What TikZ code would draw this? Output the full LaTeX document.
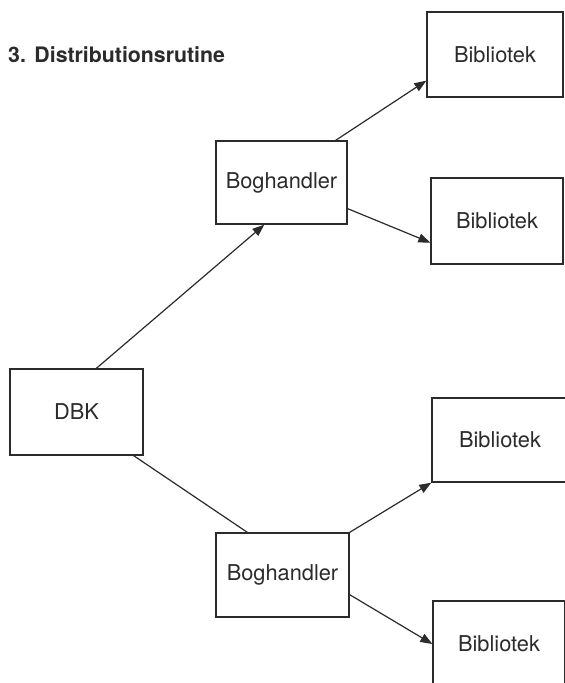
\documentclass[tikz,border=0pt]{standalone}
\usepackage{fontspec}
\setmainfont{TeX Gyre Heros}
\usetikzlibrary{arrows.meta,calc}
\definecolor{ink}{HTML}{2B2B2B}
\begin{document}
\begin{tikzpicture}[x=1pt,y=-1pt,
  box/.style={draw=ink,line width=1.3pt,rectangle,inner sep=0pt,text=ink,font=\fontsize{21.8}{24}\selectfont},
  conn/.style={draw=ink,line width=1.2pt},
  arr/.style={conn,-{Triangle[length=12pt,width=9pt]}}]
\useasboundingbox (0,0) rectangle (565,683);
\clip (0,0) rectangle (565,683);
\fill[white] (0,0) rectangle (565,683);
\node[anchor=base west,text=ink,font=\fontsize{21.3}{24}\selectfont\bfseries,inner sep=0pt] (title) at (8,62) {3.\hspace{0.4em}Distributionsrutine};
\node[box,minimum width=133pt,minimum height=86pt] (dbk) at (76.5,412) {DBK};
\node[box,minimum width=131pt,minimum height=83pt] (bog1) at (281.5,182.5) {Boghandler};
\node[box,minimum width=133pt,minimum height=84pt] (bog2) at (282.5,575) {Boghandler};
\node[box,minimum width=136pt,minimum height=85pt] (bib1) at (495,54.5) {Bibliotek};
\node[box,minimum width=132pt,minimum height=86pt] (bib2) at (497,221) {Bibliotek};
\node[box,minimum width=136pt,minimum height=84pt] (bib3) at (500,440) {Bibliotek};
\node[box,minimum width=132pt,minimum height=86pt] (bib4) at (499,644) {Bibliotek};
\draw[arr] ([xshift=87pt]dbk.north west) -- ([xshift=49pt]bog1.south west);
\draw[conn] ([xshift=-10pt]dbk.south east) -- ([xshift=32pt]bog2.north west);
\draw[arr] ([xshift=-12pt]bog1.north east) -- ([yshift=17pt]bib1.south west);
\draw[arr] ([yshift=16pt]bog1.south east) -- ([yshift=22pt]bib2.south west);
\draw[arr] (bog2.north east) -- (bib3.south west);
\draw[arr] ([yshift=23pt]bog2.south east) -- (bib4.west);
\end{tikzpicture}
\end{document}
